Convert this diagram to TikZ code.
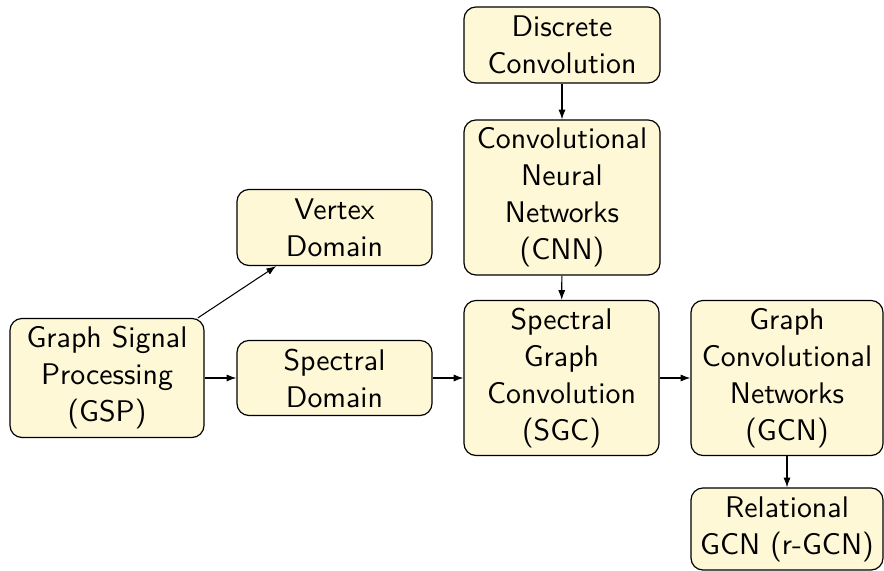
\documentclass[tikz,border=0pt]{standalone}
\usetikzlibrary{arrows.meta}
\definecolor{boxfill}{RGB}{254,248,214}
\begin{document}
\begin{tikzpicture}[x=0.335pt,y=-0.335pt,
  box/.style={draw=black, fill=boxfill, rounded corners=4pt, align=center,
    font=\sffamily\fontsize{10}{12.4}\selectfont, inner sep=0pt, line width=0.4pt},
  arr/.style={-{Latex[length=3.3pt,width=2.4pt]}, line width=0.35pt}]
\useasboundingbox (0,0) rectangle (884,571);
\node[box, minimum width=194*0.335pt, minimum height=119*0.335pt] (gsp) at (107,378) {Graph Signal\\Processing\\(GSP)};
\node[box, minimum width=195*0.335pt, minimum height=76*0.335pt] (vertex) at (334.5,227.5) {Vertex\\Domain};
\node[box, minimum width=195*0.335pt, minimum height=75*0.335pt] (spectral) at (334.5,378) {Spectral\\Domain};
\node[box, minimum width=196*0.335pt, minimum height=76*0.335pt] (discrete) at (562,45) {Discrete\\Convolution};
\node[box, minimum width=196*0.335pt, minimum height=155*0.335pt] (cnn) at (562,197.5) {Convolutional\\Neural\\Networks\\(CNN)};
\node[box, minimum width=195*0.335pt, minimum height=155*0.335pt] (sgc) at (561.5,378) {Spectral\\Graph\\Convolution\\(SGC)};
\node[box, minimum width=192*0.335pt, minimum height=155*0.335pt] (gcn) at (787,378) {Graph\\Convolutional\\Networks\\(GCN)};
\node[box, minimum width=192*0.335pt, minimum height=82*0.335pt] (rgcn) at (787,529) {Relational\\GCN (r-GCN)};
\draw[arr] (gsp) -- (vertex);
\draw[arr] (gsp) -- (spectral);
\draw[arr] (spectral) -- (sgc);
\draw[arr] (discrete) -- (cnn);
\draw[arr] (cnn) -- (sgc);
\draw[arr] (sgc) -- (gcn);
\draw[arr] (gcn) -- (rgcn);
\end{tikzpicture}
\end{document}
